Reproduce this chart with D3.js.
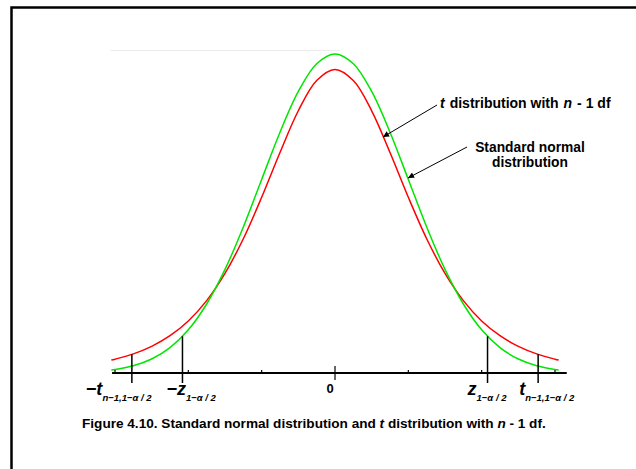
<!DOCTYPE html>
<html><head><meta charset="utf-8">
<script src="https://cdn.jsdelivr.net/npm/d3@7"></script>
<style>
  html, body { margin: 0; padding: 0; background: #fff; }
  svg { display: block; }
  text { font-family: "Liberation Sans", Arial, sans-serif; font-weight: bold; fill: #000; }
</style>
</head><body>
<script>
// Positions along the axis, in standard deviations
const xs = [-3.05, -3, -2.75, -2.5, -2.25, -2, -1.75, -1.5, -1.25, -1, -0.75, -0.5, -0.25, 0,
            0.25, 0.5, 0.75, 1, 1.25, 1.5, 1.75, 2, 2.25, 2.5, 2.75, 3, 3.05];
// Curve heights (density) at those positions
const normalHeights = [0.0038, 0.0044, 0.0091, 0.0175, 0.0317, 0.0540, 0.0863, 0.1295, 0.1826, 0.2420,
                       0.3011, 0.3521, 0.3867, 0.3989, 0.3867, 0.3521, 0.3011, 0.2420, 0.1826, 0.1295,
                       0.0863, 0.0540, 0.0317, 0.0175, 0.0091, 0.0044, 0.0038];
const tHeights = [0.0162, 0.0173, 0.0239, 0.0333, 0.0466, 0.0651, 0.0905, 0.1245, 0.1679, 0.2197,
                  0.2757, 0.3279, 0.3657, 0.3796, 0.3657, 0.3279, 0.2757, 0.2197, 0.1679, 0.1245,
                  0.0905, 0.0651, 0.0466, 0.0333, 0.0239, 0.0173, 0.0162];
const axisTicks = [-3, -2, -1, 0, 1, 2, 3];
// Critical values and the curve height each marker reaches
const critValues = [-2.77, -2.08, 2.08, 2.77];
const critHeights = [0.0233, 0.0459, 0.0459, 0.0233];
const critMain = ["\u2212t", "\u2212z", "z", "t"];
const critSub = ["n\u22121,1\u2212\u03b1 / 2", "1\u2212\u03b1 / 2", "1\u2212\u03b1 / 2", "n\u22121,1\u2212\u03b1 / 2"];
const labelOffsets = [-46, -16, -20, -19];
const centerLabel = "0";
const tLabel = ["t", "distribution with", "n", "- 1 df"];
const normalLabel = ["Standard normal", "distribution"];
const captionParts = ["Figure 4.10. Standard normal distribution and ", "t", " distribution with ", "n", " - 1 df."];

const W = 636, H = 469;
const svg = d3.select("body").append("svg").attr("width", W).attr("height", H);

const x = d3.scaleLinear().domain([-3, 3]).range([115, 555]);
const y = d3.scaleLinear().domain([0, 0.3989]).range([373, 54]);
const axisY = y(0);

// Frame (top and left edges)
svg.append("path")
  .attr("d", `M11.5,${H} V7.5 H${W}`)
  .attr("fill", "none").attr("stroke", "#000").attr("stroke-width", 2.5);

// Faint guide line near the top
svg.append("line")
  .attr("x1", x(-3.06)).attr("x2", x(0.07)).attr("y1", 50.5).attr("y2", 50.5)
  .attr("stroke", "#ececec").attr("stroke-width", 1);

// Curves
const line = d3.line().curve(d3.curveCatmullRom.alpha(0.5));
svg.append("path")
  .attr("d", line(xs.map((v, i) => [x(v), y(tHeights[i])])))
  .attr("fill", "none").attr("stroke", "#ff0000").attr("stroke-width", 1.5);
svg.append("path")
  .attr("d", line(xs.map((v, i) => [x(v), y(normalHeights[i])])))
  .attr("fill", "none").attr("stroke", "#00e600").attr("stroke-width", 1.5);

// Axis line with ticks
svg.append("line")
  .attr("x1", x(-3.04)).attr("x2", x(3.16)).attr("y1", axisY).attr("y2", axisY)
  .attr("stroke", "#000").attr("stroke-width", 2);
svg.selectAll("line.tick").data(axisTicks).join("line")
  .attr("class", "tick")
  .attr("x1", d => x(d)).attr("x2", d => x(d))
  .attr("y1", d => d === 0 ? axisY - 7 : axisY - 3)
  .attr("y2", d => d === 0 ? axisY + 7 : axisY + 1)
  .attr("stroke", "#000").attr("stroke-width", 1.2);

// Critical value markers
svg.selectAll("line.crit").data(critValues).join("line")
  .attr("class", "crit")
  .attr("x1", d => x(d)).attr("x2", d => x(d))
  .attr("y1", (d, i) => y(critHeights[i])).attr("y2", axisY + 10)
  .attr("stroke", "#000").attr("stroke-width", 1.5);

const labels = svg.selectAll("text.crit").data(critValues).join("text")
  .attr("class", "crit")
  .attr("x", (d, i) => x(d) + labelOffsets[i]).attr("y", axisY + 22);
labels.append("tspan").attr("font-size", 18).attr("font-style", "italic").text((d, i) => critMain[i]);
labels.append("tspan").attr("font-size", 9.5).attr("font-style", "italic").attr("dy", 6).text((d, i) => critSub[i]);

svg.append("text").attr("x", x(0) - 5).attr("y", axisY + 20)
  .attr("text-anchor", "middle").attr("font-size", 13).text(centerLabel);

// Annotations with arrows
const defs = svg.append("defs");
defs.append("marker").attr("id", "head")
  .attr("viewBox", "0 0 10 10").attr("refX", 10).attr("refY", 5)
  .attr("markerWidth", 8).attr("markerHeight", 6).attr("markerUnits", "userSpaceOnUse")
  .attr("orient", "auto")
  .append("path").attr("d", "M0,0 L10,5 L0,10 Z").attr("fill", "#000");

svg.append("line").attr("x1", 437).attr("y1", 105).attr("x2", 383).attr("y2", 137)
  .attr("stroke", "#000").attr("stroke-width", 1).attr("marker-end", "url(#head)");
svg.append("line").attr("x1", 467).attr("y1", 147).attr("x2", 408).attr("y2", 178)
  .attr("stroke", "#000").attr("stroke-width", 1).attr("marker-end", "url(#head)");

// Label for the t curve: italic symbols set apart by a little extra space
const tl = svg.append("text").attr("x", 440).attr("y", 108).attr("font-size", 14);
tLabel.forEach((s, i) => tl.append("tspan")
  .attr("dx", i === 0 ? 0 : 5)
  .attr("font-style", s.length === 1 ? "italic" : "normal")
  .text(s));

svg.selectAll("text.norm").data(normalLabel).join("text")
  .attr("class", "norm")
  .attr("x", 530).attr("y", (d, i) => 152 + i * 14.5)
  .attr("text-anchor", "middle").attr("font-size", 13.8).text(d => d);

// Caption
const cap = svg.append("text").attr("x", 82).attr("y", 428).attr("font-size", 13.6);
captionParts.forEach(s => cap.append("tspan").attr("font-style", s.length === 1 ? "italic" : "normal").text(s));
</script>
</body></html>
